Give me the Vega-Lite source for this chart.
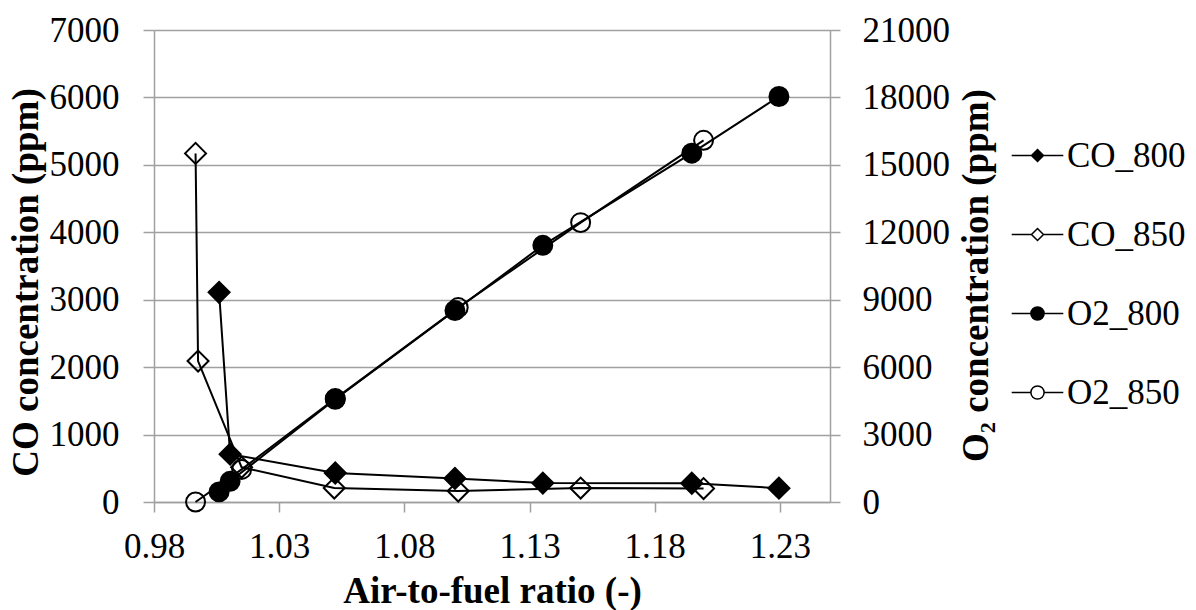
{
  "$schema": "https://vega.github.io/schema/vega-lite/v6.json",
  "width": 676,
  "height": 472,
  "autosize": {"type": "none"},
  "padding": {"left": 154, "top": 30, "right": 366, "bottom": 108},
  "background": "white",
  "config": {
    "font": "Liberation Serif",
    "view": {"stroke": null},
    "axis": {
      "labelFont": "Liberation Serif",
      "labelFontSize": 35,
      "labelColor": "black",
      "titleFont": "Liberation Serif",
      "titleFontSize": 37,
      "titleFontWeight": "bold",
      "titleColor": "black",
      "domainColor": "#a0a0a0",
      "domainWidth": 1.5,
      "tickColor": "#a0a0a0",
      "tickWidth": 1.5,
      "gridColor": "#a0a0a0",
      "gridWidth": 1.5,
      "labelOverlap": false,
      "labelFlush": false
    },
    "legend": {"labelFont": "Liberation Serif"}
  },
  "datasets": {
    "co": [
      {"x": 1.0060, "value": 3110, "series": "CO_800"},
      {"x": 1.0104, "value": 710, "series": "CO_800"},
      {"x": 1.0524, "value": 430, "series": "CO_800"},
      {"x": 1.1002, "value": 350, "series": "CO_800"},
      {"x": 1.1353, "value": 280, "series": "CO_800"},
      {"x": 1.1948, "value": 278, "series": "CO_800"},
      {"x": 1.2296, "value": 205, "series": "CO_800"},
      {"x": 0.9966, "value": 5170, "series": "CO_850"},
      {"x": 0.9976, "value": 2090, "series": "CO_850"},
      {"x": 1.0150, "value": 515, "series": "CO_850"},
      {"x": 1.0520, "value": 207, "series": "CO_850"},
      {"x": 1.1015, "value": 162, "series": "CO_850"},
      {"x": 1.1504, "value": 207, "series": "CO_850"},
      {"x": 1.1995, "value": 199, "series": "CO_850"}
    ],
    "o2": [
      {"x": 1.0060, "value": 450, "series": "O2_800"},
      {"x": 1.0104, "value": 920, "series": "O2_800"},
      {"x": 1.0524, "value": 4570, "series": "O2_800"},
      {"x": 1.1002, "value": 8520, "series": "O2_800"},
      {"x": 1.1353, "value": 11420, "series": "O2_800"},
      {"x": 1.1948, "value": 15520, "series": "O2_800"},
      {"x": 1.2296, "value": 18040, "series": "O2_800"},
      {"x": 0.9966, "value": 0, "series": "O2_850"},
      {"x": 1.0150, "value": 1450, "series": "O2_850"},
      {"x": 1.0524, "value": 4600, "series": "O2_850"},
      {"x": 1.1015, "value": 8650, "series": "O2_850"},
      {"x": 1.1504, "value": 12430, "series": "O2_850"},
      {"x": 1.1995, "value": 16090, "series": "O2_850"}
    ]
  },
  "layer": [
    {
      "data": {"name": "co"},
      "encoding": {
        "x": {
          "field": "x", "type": "quantitative",
          "scale": {"domain": [0.98, 1.25], "nice": false, "zero": false},
          "axis": {
            "values": [0.98, 1.03, 1.08, 1.13, 1.18, 1.23],
            "format": ".2f",
            "title": "Air-to-fuel ratio (-)",
            "grid": false,
            "tickSize": 10,
            "labelPadding": 45,
            "labelBaseline": "alphabetic",
            "titleBaseline": "alphabetic",
            "titleY": 100
          }
        },
        "y": {
          "field": "value", "type": "quantitative",
          "scale": {"domain": [0, 7000], "nice": false},
          "axis": {
            "orient": "left",
            "values": [0, 1000, 2000, 3000, 4000, 5000, 6000, 7000],
            "format": "d",
            "title": "CO concentration (ppm)",
            "grid": true,
            "tickSize": 11,
            "labelPadding": 24,
            "titleAngle": 270,
            "titleAlign": "center",
            "titleBaseline": "alphabetic",
            "titleX": -117,
            "titleY": 252
          }
        }
      },
      "layer": [
        {
          "mark": {"type": "line", "stroke": "black", "strokeWidth": 2},
          "encoding": {"detail": {"field": "series"}}
        },
        {
          "mark": {"type": "point", "shape": "diamond", "filled": true, "stroke": "black", "strokeWidth": 2, "size": 440, "opacity": 1},
          "encoding": {
            "fill": {
              "field": "series", "type": "nominal",
              "scale": {"domain": ["CO_800", "CO_850", "O2_800", "O2_850"], "range": ["black", "transparent", "black", "transparent"]}
            }
          }
        }
      ]
    },
    {
      "data": {"name": "o2"},
      "encoding": {
        "x": {
          "field": "x", "type": "quantitative",
          "scale": {"domain": [0.98, 1.25], "nice": false, "zero": false},
          "axis": {
            "values": [0.98, 1.03, 1.08, 1.13, 1.18, 1.23],
            "format": ".2f",
            "title": "Air-to-fuel ratio (-)",
            "grid": false,
            "tickSize": 10,
            "labelPadding": 45,
            "labelBaseline": "alphabetic",
            "titleBaseline": "alphabetic",
            "titleY": 100
          }
        },
        "y": {
          "field": "value", "type": "quantitative",
          "scale": {"domain": [0, 21000], "nice": false},
          "axis": {
            "orient": "right",
            "values": [0, 3000, 6000, 9000, 12000, 15000, 18000, 21000],
            "format": "d",
            "title": "O₂ concentration (ppm)",
            "grid": false,
            "tickSize": 10,
            "labelPadding": 22,
            "titleAngle": 270,
            "titleAlign": "center",
            "titleBaseline": "alphabetic",
            "titleX": 157,
            "titleY": 245
          }
        }
      },
      "layer": [
        {
          "mark": {"type": "line", "stroke": "black", "strokeWidth": 2},
          "encoding": {"detail": {"field": "series"}}
        },
        {
          "mark": {"type": "point", "shape": "circle", "filled": true, "stroke": "black", "strokeWidth": 2, "size": 360, "opacity": 1},
          "encoding": {
            "fill": {
              "field": "series", "type": "nominal",
              "scale": {"domain": ["CO_800", "CO_850", "O2_800", "O2_850"], "range": ["black", "transparent", "black", "transparent"]}
            }
          }
        }
      ]
    },
    {
      "data": {"name": "co"},
      "transform": [{"filter": "datum.value < 0"}],
      "mark": {"type": "point", "filled": true, "stroke": "black", "strokeWidth": 1.5, "size": 144, "opacity": 1},
      "encoding": {
        "shape": {
          "field": "series", "type": "nominal",
          "scale": {
            "domain": ["CO_800", "CO_850", "O2_800", "O2_850"],
            "range": [
              "M-4.3,0H-1M1,0H4.3M-1,0L0,-1L1,0L0,1Z",
              "M-4.3,0H-1M1,0H4.3M-1,0L0,-1L1,0L0,1Z",
              "M-4.3,0H-1.1M1.1,0H4.3M1.1,0A1.1,1.1,0,1,1,-1.1,0A1.1,1.1,0,1,1,1.1,0Z",
              "M-4.3,0H-1.1M1.1,0H4.3M1.1,0A1.1,1.1,0,1,1,-1.1,0A1.1,1.1,0,1,1,1.1,0Z"
            ]
          },
          "legend": {
            "title": null, "orient": "none", "legendX": 866, "legendY": 108,
            "symbolSize": 144, "symbolStrokeColor": "black", "symbolStrokeWidth": 1.5,
            "labelFontSize": 35, "labelColor": "black", "labelOffset": 12,
            "rowPadding": 43, "padding": 0
          }
        },
        "fill": {
          "field": "series", "type": "nominal",
          "scale": {"domain": ["CO_800", "CO_850", "O2_800", "O2_850"], "range": ["black", "transparent", "black", "transparent"]},
          "legend": {
            "title": null, "orient": "none", "legendX": 866, "legendY": 108,
            "symbolSize": 144, "symbolStrokeColor": "black", "symbolStrokeWidth": 1.5,
            "labelFontSize": 35, "labelColor": "black", "labelOffset": 12,
            "rowPadding": 43, "padding": 0
          }
        }
      }
    }
  ],
  "resolve": {"scale": {"y": "independent"}}
}
